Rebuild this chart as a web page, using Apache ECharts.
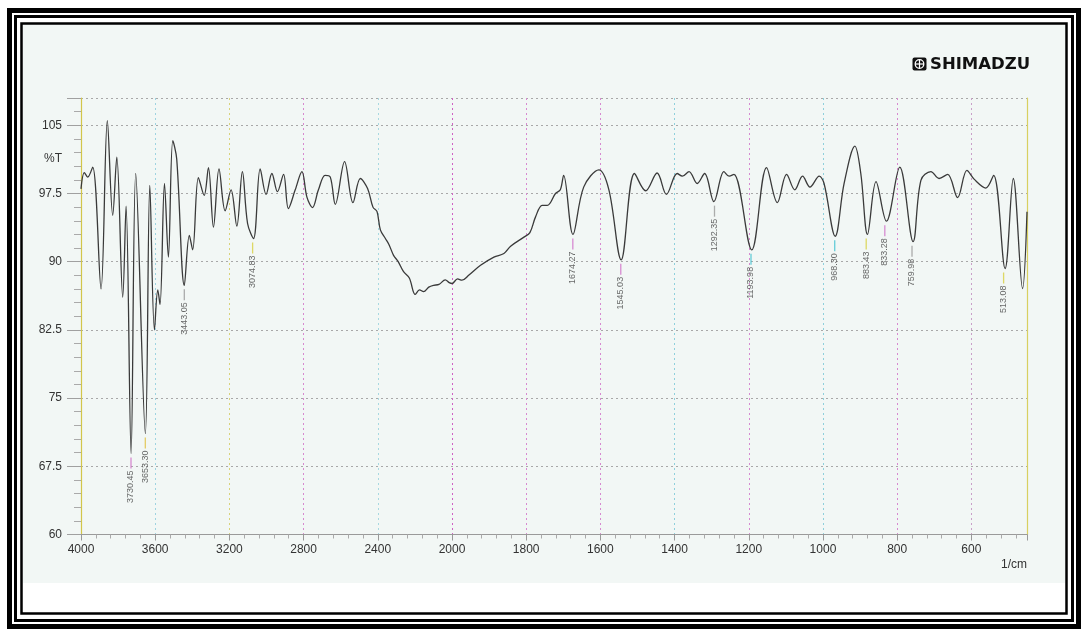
<!DOCTYPE html>
<html>
<head>
<meta charset="utf-8">
<script src="https://cdn.jsdelivr.net/npm/echarts@6/dist/echarts.min.js"></script>
<style>
html,body{margin:0;padding:0;background:#fff;}
#c{width:1088px;height:637px;}
</style>
</head>
<body>
<div id="c"></div>
<script>
// ---- data ----
const wavenumbers = [
4000,3982,3964,3937,3892,3858,3829,3807,3775,3757,3730,3705,3653,3629,3604,3586,3574,3550,3529,3505,
3484,3443,3416,3398,3367,3336,3313,3286,3256,3223,3191,3160,3130,3102,3070,3034,3002,2971,2941,2908,
2882,2845,2809,2782,2752,2720,2684,2656,2629,2579,2534,2494,2455,2426,2404,2386,2359,2340,2315,2290,
2261,2230,2198,2175,2153,2125,2099,2070,2036,2015,2000,1985,1973,1955,1923,1887,1860,1842,1806,1790,
1775,1757,1743,1721,1708,1699,1674,1645,1604,1577,1544,1508,1478,1447,1422,1393,1379,1361,1339,1319,
1294,1267,1253,1240,1192,1152,1123,1098,1076,1055,1035,1010,997,967,943,914,898,880,857,829,
793,757,736,709,687,664,637,612,592,561,540,509,487,462,450
];
const transmittance = [
98.0,99.8,99.3,100.4,87.0,105.5,95.1,101.5,86.1,96.1,68.9,99.7,71.1,98.4,82.5,86.9,85.3,98.6,90.5,103.3,
101.3,87.4,92.9,91.3,99.25,97.3,100.35,93.8,100.2,95.6,97.9,93.9,99.9,94.2,92.55,100.2,97.4,99.7,97.7,99.6,
95.85,97.9,99.9,97.1,95.95,97.9,99.5,99.3,96.3,101.0,96.5,99.15,98.05,96.0,95.5,93.5,92.55,91.9,90.7,90.0,
88.9,88.2,86.4,86.9,86.7,87.2,87.4,87.5,88.0,87.7,87.6,88.1,87.97,88.5,89.6,90.5,90.9,91.7,92.7,93.2,
94.9,96.2,96.2,97.5,97.9,99.5,93.0,98.2,100.1,97.9,90.2,99.7,97.8,99.75,97.4,99.7,99.4,99.9,98.6,99.7,
96.6,99.9,99.4,99.6,91.3,100.35,96.5,99.6,97.9,99.4,98.2,99.4,98.6,92.8,98.6,102.7,99.7,93.0,98.8,94.45,
100.4,92.2,98.95,99.9,99.15,99.6,97.05,100.05,99.05,98.1,99.5,89.25,99.15,87.05,95.5
];
const peakWavenumbers = [3730.45,3653.30,3443.05,3074.83,1674.27,1545.03,1292.35,1193.98,968.30,883.43,833.28,759.98,513.08];
const peakTransmittance = [68.9,71.1,87.4,92.55,93.0,90.2,96.6,91.3,92.8,93.0,94.45,92.2,89.25];
const xTickLabels = [4000,3600,3200,2800,2400,2000,1800,1600,1400,1200,1000,800,600];
const yTickLabels = [60,67.5,75,82.5,90,97.5,105];

// ---- styles ----
const peakLineColors = ['#d070c8','#e0c040','#999999','#d8d040','#d070c8','#d070c8','#999999','#40c0d0','#40c0d0','#d8d040','#d070c8','#999999','#d8d040'];
const vGridColors = ['#cccccc','#9fd3e0','#d9d27a','#d78ad0','#a8d8e0','#d060c4','#d78ad0','#d78ad0','#8fd0dc','#d78ad0','#8fd0dc','#d78ad0','#c9a0c9','#cccccc'];

// Shimadzu-style abscissa: 4000-2000 at half the scale of 2000-450
function toAxis(w){ return w >= 2000 ? (4000 - w) / 2 : 1000 + (2000 - w); }
function toWave(u){ return u <= 1000 ? 4000 - 2 * u : 3000 - u; }

const lineData = wavenumbers.map((w, i) => [toAxis(w), transmittance[i]]);
const peakData = peakWavenumbers.map((w, i) => ({
  value: [toAxis(w), peakTransmittance[i]],
  name: w.toFixed(2),
  itemStyle: { color: peakLineColors[i] }
}));

const chart = echarts.init(document.getElementById('c'), null, { renderer: 'canvas' });
const labelFont = 'Liberation Sans, Arial, sans-serif';

chart.setOption({
  backgroundColor: '#ffffff',
  animation: false,
  grid: { left: 81, right: 61, top: 98, bottom: 102.5 },
  xAxis: {
    type: 'value',
    min: 0, max: toAxis(450), interval: 200,
    axisLine: { show: true, onZero: false, lineStyle: { color: '#9a9a9a', width: 1 } },
    axisTick: { show: true, length: 6, lineStyle: { color: '#999' } },
    minorTick: { show: true, splitNumber: 5, length: 4, lineStyle: { color: '#aaa' } },
    axisLabel: {
      color: '#333', fontSize: 12, fontFamily: labelFont, margin: 9, showMaxLabel: false,
      formatter: function (v) { const w = toWave(v); return xTickLabels.indexOf(w) >= 0 ? String(w) : ''; }
    },
    splitLine: { show: true, lineStyle: { color: vGridColors, type: [2, 3], width: 1 } }
  },
  yAxis: [{
    type: 'value',
    min: 60, max: 108, interval: 7.5,
    axisLine: { show: true, lineStyle: { color: '#d2c64a', width: 1.2 } },
    axisTick: { show: true, length: 14, lineStyle: { color: '#a0a0a0' } },
    minorTick: { show: true, splitNumber: 5, length: 7, lineStyle: { color: '#aaa' } },
    axisLabel: {
      color: '#333', fontSize: 12, fontFamily: labelFont, margin: 19, showMaxLabel: false,
      formatter: function (v) { return yTickLabels.indexOf(v) >= 0 ? String(v) : ''; }
    },
    splitLine: { show: true, lineStyle: { color: '#a8a8a8', type: [2, 3], width: 1 } }
  }, {
    type: 'value', position: 'right',
    min: 60, max: 108, interval: 7.5,
    axisLine: { show: true, lineStyle: { color: '#d8d060', width: 1.2 } },
    axisTick: { show: false }, axisLabel: { show: false }, splitLine: { show: false }
  }],
  series: [{
    type: 'line',
    data: lineData,
    showSymbol: false,
    smooth: 0.35,
    lineStyle: { color: '#3a3a3a', width: 1.3 },
    z: 3
  }, {
    type: 'scatter',
    data: peakData,
    symbol: 'rect',
    symbolSize: [1.3, 11],
    symbolOffset: [0, 9.5],
    z: 4,
    label: {
      show: true,
      position: 'bottom',
      distance: 2,
      rotate: 90,
      align: 'right',
      verticalAlign: 'middle',
      formatter: '{b}',
      color: '#444',
      fontSize: 9,
      fontFamily: 'Liberation Sans Narrow, Arial Narrow, Liberation Sans, sans-serif'
    }
  }],
  graphic: [
    { type: 'rect', z: -100, shape: { x: 23, y: 24, width: 1042, height: 559 }, style: { fill: '#f2f7f5' } },
    { type: 'rect', z: 10, shape: { x: 9.5, y: 10.5, width: 1069, height: 616 }, style: { fill: null, stroke: '#000', lineWidth: 5 } },
    { type: 'rect', z: 10, shape: { x: 15.5, y: 16.5, width: 1057, height: 604 }, style: { fill: null, stroke: '#000', lineWidth: 3 } },
    { type: 'rect', z: 10, shape: { x: 21.5, y: 23.5, width: 1045, height: 590 }, style: { fill: null, stroke: '#000', lineWidth: 2.5 } },
    { type: 'text', z: 10, x: 62, y: 159, style: { text: '%T', fill: '#333', font: '12px Liberation Sans, Arial, sans-serif', align: 'right', verticalAlign: 'middle' } },
    { type: 'text', z: 10, x: 1027, y: 565, style: { text: '1/cm', fill: '#333', font: '12px Liberation Sans, Arial, sans-serif', align: 'right', verticalAlign: 'middle' } },
    { type: 'rect', z: 10, shape: { x: 912.5, y: 57.5, width: 14, height: 13, r: 2 }, style: { fill: '#111' } },
    { type: 'circle', z: 11, shape: { cx: 919.5, cy: 64, r: 4.3 }, style: { fill: null, stroke: '#fff', lineWidth: 1.3 } },
    { type: 'line', z: 11, shape: { x1: 915.2, y1: 64, x2: 923.8, y2: 64 }, style: { stroke: '#fff', lineWidth: 1.2 } },
    { type: 'line', z: 11, shape: { x1: 919.5, y1: 59.7, x2: 919.5, y2: 68.3 }, style: { stroke: '#fff', lineWidth: 1.2 } },
    { type: 'text', z: 10, x: 930, y: 64.5, style: { text: 'SHIMADZU', fill: '#111', font: 'bold 16.5px DejaVu Sans, sans-serif', align: 'left', verticalAlign: 'middle' } }
  ]
});
</script>
</body>
</html>
